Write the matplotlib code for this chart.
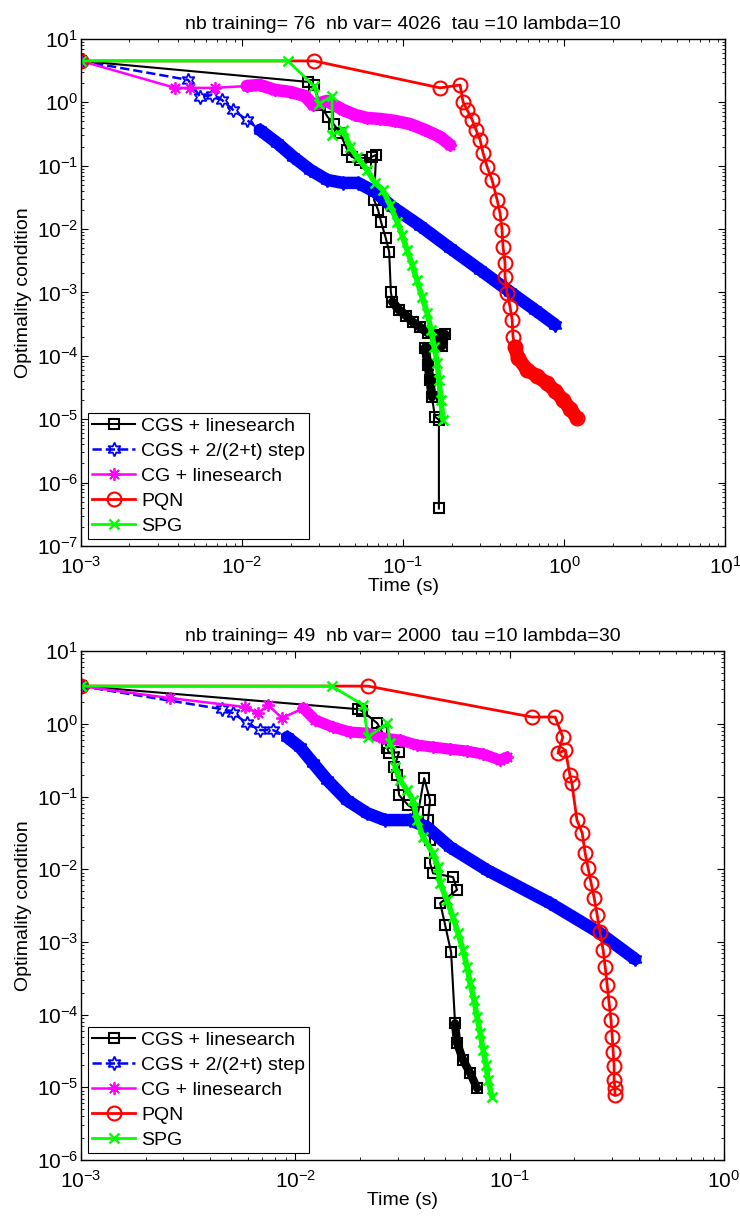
import numpy as np
import matplotlib
matplotlib.use('Agg')
import matplotlib.pyplot as plt
from matplotlib.ticker import LogLocator, NullFormatter

plt.rcParams['font.family'] = ['Liberation Sans', 'DejaVu Sans']
plt.rcParams['mathtext.fontset'] = 'custom'
plt.rcParams['mathtext.rm'] = 'Liberation Sans'
plt.rcParams['mathtext.it'] = 'Liberation Sans:italic'
plt.rcParams['mathtext.bf'] = 'Liberation Sans:bold'

# ---------------- data : top panel (nb training = 76) ----------------
top_title = 'nb training= 76  nb var= 4026  tau =10 lambda=10'

top_cgs_ls_t = [1e-3, 0.0257, 0.028, 0.0305, 0.034, 0.037, 0.0406, 0.045, 0.048, 0.054, 0.059,
                0.064, 0.068, 0.066, 0.070, 0.073, 0.078, 0.082, 0.084, 0.086, 0.0944, 0.1045,
                0.115, 0.128, 0.143, 0.160, 0.182, 0.175, 0.137, 0.143, 0.147, 0.151, 0.158,
                0.167, 0.167]
top_cgs_ls_v = [4.5, 2.10, 1.88, 0.91, 0.59, 0.456, 0.329, 0.178, 0.138, 0.123, 0.111,
                0.138, 0.148, 0.029, 0.020, 0.013, 7.3e-3, 4.4e-3, 1.02e-3, 7.1e-4, 5.3e-4, 4.3e-4,
                3.4e-4, 2.8e-4, 2.3e-4, 2.1e-4, 2.2e-4, 1.44e-4, 1.34e-4, 7.2e-5, 4.2e-5, 2.25e-5, 1.09e-5,
                9.8e-6, 3.9e-7]

top_cgs_step_t = [1e-3, 4.62e-3, 5.5e-3, 6.5e-3, 7.5e-3, 8.8e-3, 0.0107, 0.0129, 0.0165, 0.0208,
                  0.0265, 0.0337, 0.0424, 0.0525, 0.067, 0.086, 0.128, 0.196, 0.301, 0.462, 0.66, 0.88]
top_cgs_step_v = [4.5, 2.26, 1.22, 1.31, 1.09, 0.76, 0.527, 0.367, 0.229, 0.138,
                  0.0859, 0.0597, 0.0535, 0.0535, 0.0386, 0.0224, 0.0112, 5.0e-3, 2.27e-3, 1.02e-3,
                  5.3e-4, 3.1e-4]

top_cg_ls_t = [1e-3, 3.84e-3, 4.75e-3, 6.8e-3, 0.0107, 0.0129, 0.016, 0.0199, 0.0246, 0.0276,
               0.0337, 0.0424, 0.0504, 0.0597, 0.072, 0.089, 0.110, 0.137, 0.170, 0.196]
top_cg_ls_v = [4.5, 1.69, 1.69, 1.69, 1.81, 1.88, 1.57, 1.46, 1.26, 0.91,
               1.05, 0.76, 0.633, 0.567, 0.547, 0.509, 0.456, 0.367, 0.285, 0.213]

top_pqn_t = [1e-3, 0.028, 0.170, 0.226, 0.236, 0.25, 0.269, 0.284, 0.301, 0.314, 0.333, 0.357,
             0.384, 0.400, 0.412, 0.418, 0.43, 0.43, 0.443, 0.462, 0.476, 0.482, 0.496, 0.518,
             0.589, 0.68, 0.78, 0.88, 0.99, 1.09, 1.2]
top_pqn_v = [4.5, 4.5, 1.69, 1.88, 1.01, 0.76, 0.527, 0.367, 0.255, 0.159, 0.0957, 0.0597,
             0.0289, 0.018, 9.7e-3, 5.2e-3, 2.9e-3, 1.76e-3, 9.9e-4, 5.9e-4, 3.7e-4, 2.0e-4, 1.39e-4,
             9.3e-5, 6.0e-5, 4.8e-5, 3.7e-5, 2.8e-5, 2.0e-5, 1.46e-5, 1.05e-5]

top_spg_t = [1e-3, 0.0193, 0.028, 0.030, 0.0362, 0.0362, 0.0424, 0.0469, 0.0518, 0.0597, 0.067,
             0.075, 0.083, 0.092, 0.0986, 0.106, 0.114, 0.122, 0.131, 0.141, 0.149, 0.156, 0.163,
             0.167, 0.172, 0.177]
top_spg_v = [4.5, 4.5, 1.81, 0.944, 1.26, 0.306, 0.367, 0.198, 0.138, 0.0859, 0.0535,
             0.0415, 0.0241, 0.013, 8.1e-3, 4.7e-3, 2.7e-3, 1.58e-3, 8.5e-4, 4.8e-4, 2.6e-4, 1.39e-4,
             7.8e-5, 4.2e-5, 2.0e-5, 9.8e-6]

# ---------------- data : bottom panel (nb training = 49) ----------------
bot_title = 'nb training= 49  nb var= 2000  tau =10 lambda=30'

bot_cgs_ls_t = [1e-3, 0.0196, 0.0205, 0.0241, 0.0254, 0.0268, 0.0274, 0.0305, 0.0289, 0.0298,
                0.0305, 0.0336, 0.0374, 0.0399, 0.0425, 0.0416, 0.0425, 0.0425, 0.0439, 0.0544,
                0.0568, 0.0474, 0.050, 0.0533, 0.0556, 0.0568, 0.0606, 0.0654, 0.0705]
bot_cgs_ls_v = [3.3, 1.59, 1.50, 1.02, 0.77, 0.463, 0.395, 0.408, 0.254, 0.20,
                0.104, 0.076, 0.061, 0.179, 0.089, 0.0474, 0.0251, 0.0121, 8.8e-3, 7.8e-3,
                5.2e-3, 3.42e-3, 1.70e-3, 7.2e-4, 7.6e-5, 4.1e-5, 2.37e-5, 1.57e-5, 9.7e-6]

bot_cgs_step_t = [1e-3, 4.55e-3, 5.12e-3, 5.96e-3, 6.84e-3, 7.87e-3, 9.15e-3, 0.0105, 0.0121,
                  0.0141, 0.0174, 0.0216, 0.0262, 0.0343, 0.0412, 0.0527, 0.0785, 0.154, 0.264, 0.385]
bot_cgs_step_v = [3.3, 1.59, 1.40, 1.02, 0.82, 0.82, 0.656, 0.478, 0.288,
                  0.168, 0.089, 0.059, 0.0474, 0.0474, 0.0379, 0.0201, 9.7e-3, 3.42e-3, 1.32e-3, 5.8e-4]

bot_cg_ls_t = [1e-3, 2.6e-3, 5.83e-3, 6.70e-3, 7.46e-3, 8.67e-3, 0.0109, 0.0124, 0.0150, 0.0180,
               0.0216, 0.0257, 0.0308, 0.0370, 0.0439, 0.0527, 0.0633, 0.0752, 0.0902, 0.0973]
bot_cg_ls_v = [3.3, 2.26, 1.70, 1.40, 1.81, 1.20, 1.64, 1.12, 0.90, 0.77,
               0.745, 0.636, 0.597, 0.509, 0.478, 0.449, 0.421, 0.383, 0.317, 0.348]

bot_pqn_t = [1e-3, 0.0218, 0.127, 0.163, 0.177, 0.168, 0.182, 0.191, 0.195, 0.206, 0.218, 0.225,
             0.232, 0.240, 0.248, 0.256, 0.264, 0.273, 0.279, 0.285, 0.291, 0.297, 0.301, 0.304,
             0.307, 0.307, 0.310, 0.310]
bot_pqn_v = [3.3, 3.3, 1.24, 1.24, 0.656, 0.395, 0.435, 0.197, 0.153, 0.0474, 0.0314, 0.0166,
             0.0104, 6.4e-3, 4.0e-3, 2.34e-3, 1.36e-3, 7.7e-4, 4.5e-4, 2.55e-4, 1.44e-4, 8.4e-5,
             4.9e-5, 3.05e-5, 1.96e-5, 1.26e-5, 9.7e-6, 7.8e-6]

bot_spg_t = [1e-3, 0.0148, 0.0207, 0.0218, 0.0268, 0.0277, 0.0292, 0.0308, 0.0332, 0.0354, 0.0370,
             0.0394, 0.0439, 0.0463, 0.0473, 0.0510, 0.0544, 0.0574, 0.0606, 0.0633, 0.0654, 0.0682,
             0.0705, 0.0728, 0.0752, 0.0776, 0.0793, 0.0828]
bot_spg_v = [3.3, 3.3, 1.81, 0.656, 1.02, 0.543, 0.254, 0.168, 0.122, 0.089, 0.0474,
             0.0277, 0.0166, 0.0107, 6.4e-3, 3.76e-3, 2.19e-3, 1.32e-3, 7.7e-4, 4.5e-4, 2.7e-4, 1.58e-4,
             9.2e-5, 5.6e-5, 3.25e-5, 2.02e-5, 1.26e-5, 7.3e-6]

labels = ['CGS + linesearch', 'CGS + 2/(2+t) step', 'CG + linesearch', 'PQN', 'SPG']

# ---------------- styles ----------------
styles = [
    dict(color='k', ls='-', lw=1.5, marker='s', ms=7.5, mfc='none', mew=1.5),
    dict(color='#0000ff', ls='--', lw=1.8, marker=(6, 1, 0), ms=10, mfc='none', mew=1.3),
    dict(color='#ff00ff', ls='-', lw=1.8, marker=(8, 2, 0), ms=9, mew=1.3),
    dict(color='#ff0000', ls='-', lw=2.0, marker='o', ms=10, mfc='none', mew=1.5),
    dict(color='#00ff00', ls='-', lw=2.0, marker='x', ms=7, mew=1.8),
]

# where the markers pile up into a solid band: (start, stop, band width)
top_bands = [(19, 32, 6.5), (7, None, 9), (4, None, 9), (22, None, 10), (6, None, 4)]
bot_bands = [(24, None, 6), (6, None, 9), (6, None, 8), None, (6, None, 4)]

panels = [
    dict(title=top_title,
         series=[(top_cgs_ls_t, top_cgs_ls_v), (top_cgs_step_t, top_cgs_step_v),
                 (top_cg_ls_t, top_cg_ls_v), (top_pqn_t, top_pqn_v), (top_spg_t, top_spg_v)],
         bands=top_bands, xlim=(1e-3, 1e1), ylim=(1e-7, 1e1),
         rect=[0.1095, 0.5514, 0.8703, 0.4166]),
    dict(title=bot_title,
         series=[(bot_cgs_ls_t, bot_cgs_ls_v), (bot_cgs_step_t, bot_cgs_step_v),
                 (bot_cg_ls_t, bot_cg_ls_v), (bot_pqn_t, bot_pqn_v), (bot_spg_t, bot_spg_v)],
         bands=bot_bands, xlim=(1e-3, 1e0), ylim=(1e-6, 1e1),
         rect=[0.1095, 0.0468, 0.8689, 0.4182]),
]

fig = plt.figure(figsize=(7.4, 12.17), dpi=100, facecolor='white')

for p in panels:
    ax = fig.add_axes(p['rect'])
    ax.set_xscale('log')
    ax.set_yscale('log')
    for (t, v), st, band, lab in zip(p['series'], styles, p['bands'], labels):
        t = np.array(t)
        v = np.array(v)
        if band is not None:
            a, b, w = band
            ax.plot(t[a:b], v[a:b], '-', color=st['color'], lw=w,
                    solid_joinstyle='round', solid_capstyle='round')
        ax.plot(t, v, label=lab, **st)

    ax.set_xlim(*p['xlim'])
    ax.set_ylim(*p['ylim'])
    ax.xaxis.set_major_locator(LogLocator(base=10, numticks=20))
    ax.yaxis.set_major_locator(LogLocator(base=10, numticks=20))
    ax.xaxis.set_minor_locator(LogLocator(base=10, subs=np.arange(2, 10), numticks=100))
    ax.yaxis.set_minor_locator(LogLocator(base=10, subs=np.arange(2, 10), numticks=100))
    ax.xaxis.set_minor_formatter(NullFormatter())
    ax.yaxis.set_minor_formatter(NullFormatter())
    ax.tick_params(which='both', direction='in', top=True, right=True, labelsize=15)
    ax.tick_params(which='major', length=5, width=0.8)
    ax.tick_params(which='minor', length=2.5, width=0.6)
    ax.tick_params(axis='x', which='major', pad=7)
    ax.tick_params(axis='y', which='major', pad=2)
    for s in ax.spines.values():
        s.set_linewidth(1.0)

    ax.set_title(p['title'], fontsize=14, pad=7)
    ax.set_xlabel('Time (s)', fontsize=14, labelpad=0)
    ax.set_ylabel('Optimality condition', fontsize=14, labelpad=3)

    leg = ax.legend(loc='lower left', bbox_to_anchor=(0, 0), borderaxespad=0.36,
                    fontsize=14, fancybox=False, framealpha=1, edgecolor='k',
                    handlelength=2.2, handletextpad=0.3, labelspacing=0.376, borderpad=0.22)
    leg.get_frame().set_linewidth(0.8)

fig.savefig('out.png', dpi=100, facecolor='white')
